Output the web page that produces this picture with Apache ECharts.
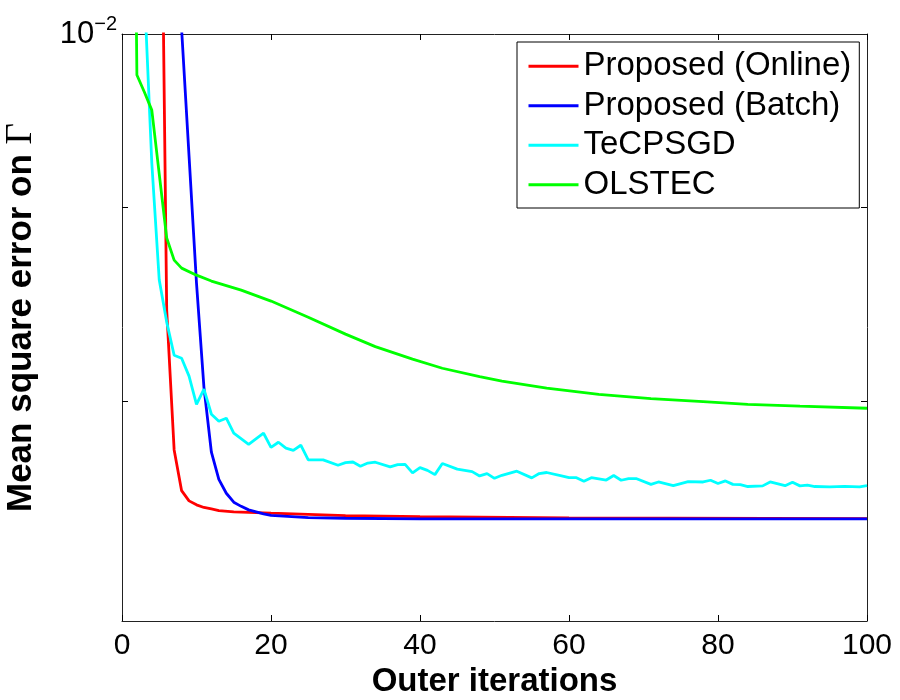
<!DOCTYPE html>
<html>
<head>
<meta charset="utf-8">
<title>Mean square error on Γ</title>
<script src="https://cdn.jsdelivr.net/npm/echarts@6/dist/echarts.min.js"></script>
<style>
  html, body { margin: 0; padding: 0; background: #fff; }
  #chart { width: 900px; height: 700px; }
</style>
</head>
<body>
<div id="chart"></div>
<script>
// values (outer iteration, mean square error)
var onlineX = [5, 6, 7, 8, 9, 10, 11, 12, 13, 15, 20, 30, 40, 60, 100];
var onlineY = [0.0125, 0.008456, 0.007767, 0.007577, 0.00753, 0.007512, 0.0075, 0.007493, 0.007486,
  0.00748, 0.007474, 0.007463, 0.007458, 0.007453, 0.007449];

var batchX = [7, 8, 9, 10, 11, 12, 13, 14, 15, 16, 17, 18, 19, 20, 25, 30, 40, 100];
var batchY = [0.0115, 0.01003, 0.009285, 0.008595, 0.008068, 0.007756, 0.007629, 0.007565, 0.007524,
  0.007505, 0.007489, 0.00748, 0.007471, 0.007464, 0.007454, 0.007451, 0.007448, 0.007448];

var tecX = [3, 4, 5, 6, 7, 8, 9, 10, 11, 12, 13, 14, 15, 17, 19, 20, 21, 22, 23, 24, 25, 27, 29, 30,
  31, 32, 33, 34, 36, 37, 38, 39, 40, 41, 42, 43, 45, 47, 48, 49, 50, 51, 53, 55, 56, 57, 59, 60,
  61, 62, 63, 65, 66, 67, 68, 69, 71, 72, 74, 76, 78, 79, 80, 81, 82, 83, 84, 86, 87, 89, 90, 91,
  92, 93, 95, 97, 99, 100];
var tecY = [0.01027, 0.009246, 0.008611, 0.008394, 0.008227, 0.008212, 0.008123, 0.007985, 0.008059,
  0.007937, 0.007903, 0.007918, 0.007846, 0.007793, 0.007846, 0.007779, 0.007803, 0.007775, 0.007765,
  0.007789, 0.00772, 0.00772, 0.007695, 0.007707, 0.00771, 0.00769, 0.007705, 0.007709, 0.007687,
  0.007698, 0.007699, 0.007659, 0.007684, 0.007671, 0.007651, 0.007703, 0.007677, 0.007665, 0.007645,
  0.007656, 0.007634, 0.007648, 0.007667, 0.007636, 0.007656, 0.007661, 0.007645, 0.007637, 0.007637,
  0.00762, 0.007637, 0.007626, 0.007647, 0.007625, 0.007633, 0.007633, 0.007606, 0.007617, 0.0076,
  0.007619, 0.007617, 0.007625, 0.00761, 0.007622, 0.007606, 0.007605, 0.007596, 0.007599, 0.007617,
  0.0076, 0.007616, 0.007599, 0.007602, 0.007596, 0.007594, 0.007597, 0.007594, 0.0076];

var olsX = [1, 2, 3, 4, 5, 6, 7, 8, 10, 12, 16, 20, 25, 30, 34, 39, 43, 48, 51, 57, 64, 71, 78, 84, 91, 100];
var olsY = [0.015, 0.009754, 0.009654, 0.009548, 0.009184, 0.008834, 0.008716, 0.008674, 0.008637,
  0.008606, 0.008559, 0.008502, 0.008419, 0.008333, 0.00827, 0.008207, 0.008162, 0.00812, 0.008098,
  0.008064, 0.008033, 0.008013, 0.007998, 0.007985, 0.007976, 0.007966];

var names = ['Proposed (Online)', 'Proposed (Batch)', 'TeCPSGD', 'OLSTEC'];
var colors = ['#ff0000', '#0000ff', '#00ffff', '#00ff00'];
var xTicks = [0, 20, 40, 60, 80, 100];
var yLabelTicks = [0.01];
var yMinorTicks = [0.008, 0.009];

var FONT = 'Liberation Sans, Arial, Helvetica, sans-serif';

function pairs(xs, ys) {
  return xs.map(function (x, i) { return [x, ys[i]]; });
}

var chart = echarts.init(document.getElementById('chart'));

function xAxisOpt(pos) {
  return {
    type: 'value', min: 0, max: 100, interval: 20, position: pos,
    splitLine: { show: false },
    axisLine: { show: true, onZero: false, lineStyle: { color: '#222', width: 1 } },
    axisTick: { show: true, inside: true, length: 6, customValues: xTicks, lineStyle: { color: '#000', width: 1 } }
  };
}
function yAxisOpt(pos) {
  return {
    type: 'log', logBase: 10, min: 0.007, max: 0.01, position: pos,
    splitLine: { show: false },
    axisLine: { show: true, onZero: false, lineStyle: { color: '#222', width: 1 } },
    axisTick: { show: true, inside: true, length: 6, customValues: yMinorTicks, lineStyle: { color: '#000', width: 1 } }
  };
}

var xBottom = Object.assign(xAxisOpt('bottom'), {
  name: 'Outer iterations', nameLocation: 'middle', nameGap: 38,
  nameTextStyle: { fontFamily: FONT, fontSize: 33, fontWeight: 'bold', color: '#000' },
  axisLabel: { fontFamily: FONT, fontSize: 30, color: '#000', margin: 10 }
});
var xTop = Object.assign(xAxisOpt('top'), { axisLabel: { show: false } });

var yLeft = Object.assign(yAxisOpt('left'), {
  name: '{b|Mean square error on }{g|Γ}', nameLocation: 'middle', nameGap: 82, nameRotate: 90,
  nameTextStyle: {
    padding: [0, 0, 0, 20],
    rich: {
      b: { fontFamily: FONT, fontSize: 35, fontWeight: 'bold', color: '#000' },
      g: { fontFamily: 'Liberation Serif, DejaVu Serif, serif', fontSize: 37, color: '#000' }
    }
  },
  axisLabel: {
    customValues: yLabelTicks, margin: 5,
    formatter: function () { return '{b|10}{s|\u22122}'; },
    rich: {
      b: { fontFamily: FONT, fontSize: 31, color: '#000', lineHeight: 36, verticalAlign: 'bottom' },
      s: { fontFamily: FONT, fontSize: 20, color: '#000', lineHeight: 20, verticalAlign: 'top' }
    },
    padding: [0, 0, 4, 0]
  }
});
var yRight = Object.assign(yAxisOpt('right'), { axisLabel: { show: false } });

var option = {
  animation: false,
  backgroundColor: '#fff',
  grid: { left: 122, right: 33, top: 34, bottom: 79, outerBoundsMode: 'none' },
  xAxis: [xBottom, xTop],
  yAxis: [yLeft, yRight],
  legend: {
    orient: 'vertical', left: 517, top: 42,
    data: names,
    backgroundColor: '#fff', borderColor: '#000', borderWidth: 1, borderRadius: 0,
    padding: [6, 8, 5, 10],
    itemWidth: 50, itemHeight: 14, itemGap: 3,
    itemStyle: { opacity: 0 },
    lineStyle: { width: 3 },
    textStyle: { fontFamily: FONT, fontSize: 33, color: '#000', lineHeight: 36.5 }
  },
  series: [
    { name: names[0], data: pairs(onlineX, onlineY) },
    { name: names[1], data: pairs(batchX, batchY) },
    { name: names[2], data: pairs(tecX, tecY) },
    { name: names[3], data: pairs(olsX, olsY) }
  ].map(function (s, i) {
    return Object.assign(s, {
      type: 'line', symbol: 'none', clip: true,
      color: colors[i],
      lineStyle: { color: colors[i], width: 2.8 }
    });
  })
};

chart.setOption(option);
</script>
</body>
</html>
